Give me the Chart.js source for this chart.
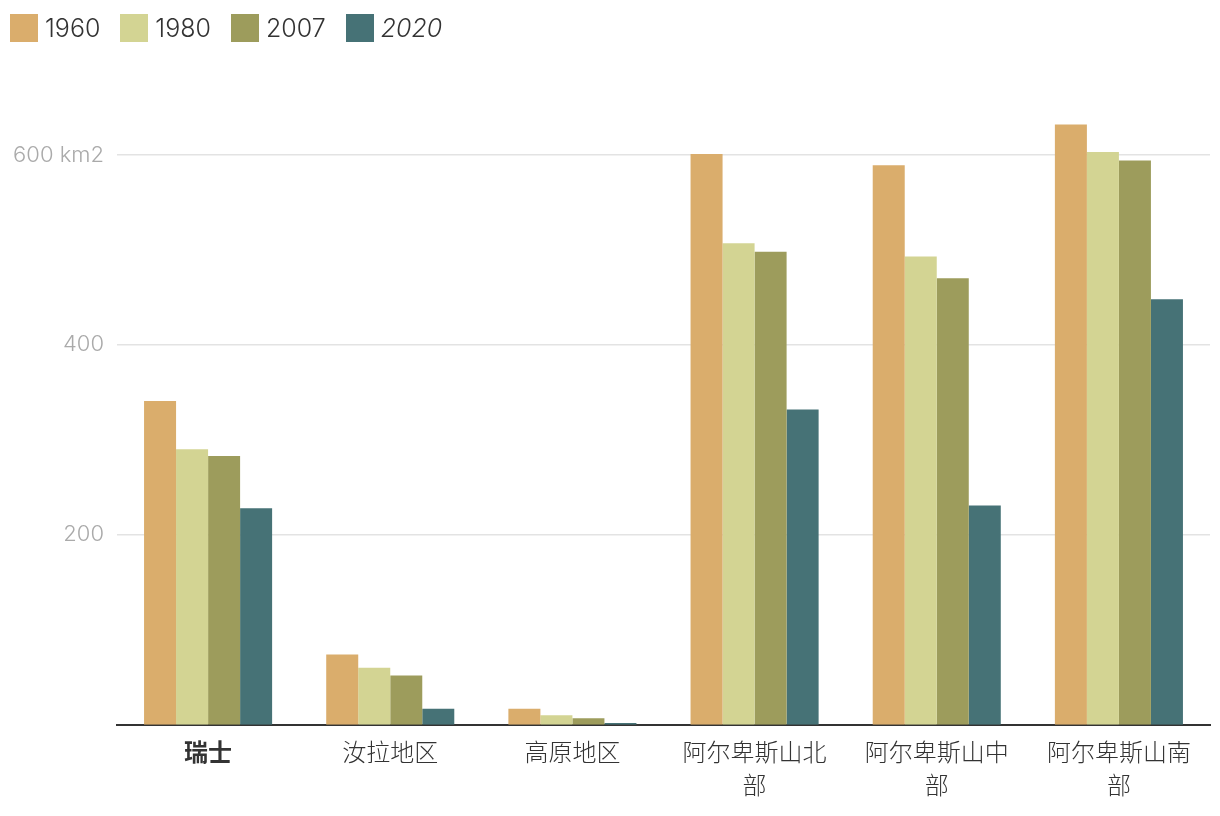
<!DOCTYPE html>
<html>
<head>
<meta charset="utf-8">
<script src="https://cdn.jsdelivr.net/npm/chart.js@4/dist/chart.umd.min.js"></script>
<style>
  html, body { margin: 0; padding: 0; background: #fff; }
  #wrap { position: relative; width: 1220px; height: 816px; }
  #legend { position: absolute; left: 10px; top: 14px; display: flex; font-family: Inter, "Noto Sans CJK SC", sans-serif; font-size: 25px; line-height: 28px; color: #333; font-weight: 300; }
  #legend .item { display: flex; align-items: center; margin-right: 20px; }
  #legend .box { width: 28px; height: 28px; margin-right: 7px; }
</style>
</head>
<body>
<div id="wrap">
  <div id="legend"></div>
  <canvas id="glacierChart" width="1220" height="816"></canvas>
</div>
<script>
// Glacier area per region (km2)
const regions = ["瑞士", "汝拉地区", "高原地区", ["阿尔卑斯山北", "部"], ["阿尔卑斯山中", "部"], ["阿尔卑斯山南", "部"]];
const years = ["1960", "1980", "2007", "2020"];
const area1960 = [341, 74, 17, 601, 589, 632];
const area1980 = [290, 60, 10, 507, 493, 603];
const area2007 = [283, 52, 7, 498, 470, 594];
const area2020 = [228, 17, 2, 332, 231, 448];
const yTicks = [200, 400, 600];
const colors = ["#daad6c", "#d3d493", "#9d9c5c", "#467276"];

document.addEventListener("DOMContentLoaded", () => {
  const series = [area1960, area1980, area2007, area2020];

  // html legend, last year in italics
  const legend = document.getElementById("legend");
  years.forEach((y, i) => {
    const item = document.createElement("div");
    item.className = "item";
    item.innerHTML = '<span class="box" style="background:' + colors[i] + '"></span><span' +
      (i === years.length - 1 ? ' style="font-style:italic"' : "") + ">" + y + "</span>";
    legend.appendChild(item);
  });

  const ctx = document.getElementById("glacierChart").getContext("2d");
  new Chart(ctx, {
    type: "bar",
    data: {
      labels: regions,
      datasets: years.map((y, i) => ({
        label: y,
        data: series[i],
        backgroundColor: colors[i],
        categoryPercentage: 0.703,
        barPercentage: 1,
      })),
    },
    options: {
      responsive: false,
      animation: false,
      layout: { padding: { top: 96, right: 10, bottom: 8, left: 0 } },
      plugins: {
        legend: { display: false },
        tooltip: { enabled: false },
      },
      scales: {
        x: {
          grid: { display: false },
          border: { color: "#333", width: 2 },
          ticks: {
            color: "#333",
            padding: 4,
            font: (c) => ({
              family: 'Inter, "Noto Sans CJK SC", sans-serif',
              size: 24,
              lineHeight: 1.4,
              weight: c.index === 0 ? "bold" : 300,
            }),
          },
        },
        y: {
          min: 0,
          max: 662,
          border: { display: false },
          grid: { color: "#e3e3e3", lineWidth: 1.5, drawTicks: false },
          afterBuildTicks: (scale) => {
            scale.ticks = yTicks.map((v) => ({ value: v }));
          },
          afterFit: (scale) => {
            scale.width = 117;
          },
          ticks: {
            color: "#aaa",
            padding: 13,
            font: { family: 'Inter, "Noto Sans CJK SC", sans-serif', size: 22, weight: 300 },
            callback: (v) => (v === 600 ? "600 km2" : v),
          },
        },
      },
    },
  });
});
</script>
</body>
</html>
